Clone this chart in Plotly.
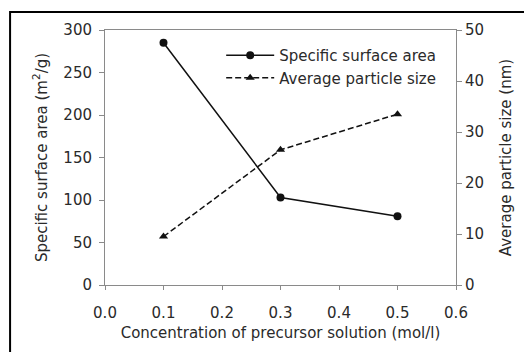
import plotly.graph_objects as go

conc = [0.1, 0.3, 0.5]
surface_area = [285, 103, 81]
particle_size = [9.5, 26.5, 33.5]

font_family = "DejaVu Sans, Liberation Sans, Arial, sans-serif"
txt = "#2a2a2a"
axc = "#8a8a8a"

fig = go.Figure()
fig.add_trace(go.Scatter(
    x=conc, y=surface_area, name="Specific surface area",
    mode="lines+markers",
    line=dict(color="#111111", width=1.5),
    marker=dict(symbol="circle", size=8, color="#111111"),
))
fig.add_trace(go.Scatter(
    x=conc, y=particle_size, name="Average particle size",
    mode="lines+markers", yaxis="y2",
    line=dict(color="#111111", width=1.5, dash="6px,3px"),
    marker=dict(symbol="triangle-up", size=8, color="#111111"),
))

fig.update_layout(
    width=524, height=352,
    margin=dict(l=105, r=64, t=30, b=67),
    paper_bgcolor="white", plot_bgcolor="white",
    font=dict(family=font_family, size=15, color=txt),
    showlegend=True,
    legend=dict(x=0.331, y=0.965, xanchor="left", yanchor="top",
                bgcolor="rgba(0,0,0,0)", font=dict(size=15, color=txt),
                tracegroupgap=0, itemwidth=48),
    xaxis=dict(range=[0, 0.6], dtick=0.1, tickformat=".1f",
               showgrid=False, zeroline=False,
               showline=True, linecolor=axc, linewidth=1, mirror=True,
               ticks="outside", ticklen=4, tickcolor=axc,
               ticklabelstandoff=10,
               title=dict(text="Concentration of precursor solution (mol/l)",
                          font=dict(size=15), standoff=6)),
    yaxis=dict(range=[0, 300], dtick=50,
               showgrid=False, zeroline=False,
               showline=True, linecolor=axc, linewidth=1,
               ticks="outside", ticklen=5, tickcolor=axc,
               ticklabelstandoff=4,
               title=dict(text="Specific surface area (m<sup>2</sup>/g)",
                          font=dict(size=15), standoff=12)),
    yaxis2=dict(range=[0, 50], dtick=10, overlaying="y", side="right",
                showgrid=False, zeroline=False,
                showline=True, linecolor=axc, linewidth=1,
                ticks="outside", ticklen=5, tickcolor=axc,
                title=dict(text="Average particle size (nm)",
                           font=dict(size=15), standoff=17)),
)

# outer black frame (partially cropped in the reference)
fig.add_shape(type="rect", xref="paper", yref="paper",
              x0=(9 - 105) / 355, x1=1.4, y0=-0.6, y1=1 + (30 - 12) / 255,
              line=dict(color="black", width=2), layer="above")

fig.write_html("out.html")
